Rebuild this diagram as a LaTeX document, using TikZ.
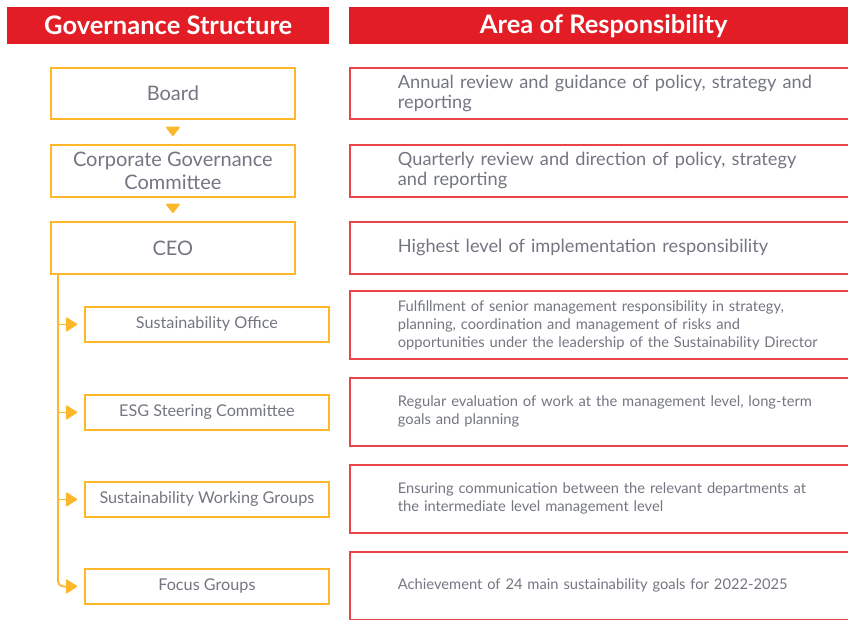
\documentclass[tikz,border=0pt]{standalone}
\usepackage{fontspec}
\setmainfont{Lato}
\usetikzlibrary{arrows.meta}
\definecolor{headred}{HTML}{E31D25}
\definecolor{boxred}{HTML}{E9444C}
\definecolor{boxyellow}{HTML}{FCB72B}
\definecolor{txtgray}{HTML}{737680}

\begin{document}
\begin{tikzpicture}[x=1pt, y=-1pt,
    header/.style={fill=headred, text=white, font=\bfseries\fontsize{25.5}{28}\selectfont,
      minimum height=37pt, anchor=north west, inner sep=0pt},
    govbox/.style={draw=boxyellow, line width=1.8pt, text=txtgray, minimum width=244pt,
      minimum height=51pt, anchor=north west, align=center, inner sep=0pt,
      font=\fontsize{20}{23}\selectfont},
    subbox/.style={govbox, minimum height=35pt, font=\fontsize{16.2}{18}\selectfont},
    areabox/.style={draw=boxred, line width=1.8pt, text=txtgray, text width=460pt,
      inner xsep=48pt, inner ysep=0pt, align=left, anchor=north west,
      font=\fontsize{18.2}{20}\selectfont},
    areasmall/.style={areabox, minimum height=68pt, font=\fontsize{14.7}{18}\selectfont},
    downtip/.style={boxyellow, line width=1.8pt, shorten <=8pt, shorten >=8pt,
      -{Triangle[width=15pt,length=10pt,round]}},
    branchtip/.style={boxyellow, line width=1.8pt, shorten >=7pt,
      -{Triangle[width=15pt,length=12pt,round]}}]
    \useasboundingbox (0,0) rectangle (848,619);
    \clip (0,0) rectangle (848,619);
    % headers
    \node[header, minimum width=322pt] (govhead) at (7,7) {Governance Structure};
    \node[header, minimum width=509pt] (areahead) at (349,7) {Area of Responsibility};
    % governance structure
    \node[govbox] (board) at (50,67) {Board};
    \node[govbox, minimum height=52pt] (cgc) at (50,144) {Corporate Governance\\Committee};
    \node[govbox, minimum height=52pt] (ceo) at (50,221) {CEO};
    \node[subbox] (office) at (84,306) {Sustainability Office};
    \node[subbox] (esg) at (84,394) {ESG Steering Committee};
    \node[subbox] (working) at (84,481) {Sustainability Working Groups};
    \node[subbox] (focus) at (84,568) {Focus Groups};
    % area of responsibility
    \node[areabox, minimum height=51pt] (annual) at (349,67)
      {Annual review and guidance of policy, strategy and\\reporting};
    \node[areabox, minimum height=52pt] (quarterly) at (349,144)
      {Quarterly review and direction of policy, strategy\\and reporting};
    \node[areabox, minimum height=52pt] (highest) at (349,221)
      {Highest level of implementation responsibility};
    \node[areasmall] (fulfil) at (349,290)
      {Fulfillment of senior management responsibility in strategy,\\planning, coordination and management of risks and\\opportunities under the leadership of the Sustainability Director};
    \node[areasmall] (regular) at (349,377)
      {Regular evaluation of work at the management level, long-term\\goals and planning};
    \node[areasmall] (ensuring) at (349,464)
      {Ensuring communication between the relevant departments at\\the intermediate level management level};
    \node[areasmall] (achieve) at (349,551)
      {Achievement of 24 main sustainability goals for 2022-2025};
    % connectors
    \draw[downtip] (board.south) -- (cgc.north);
    \draw[downtip] (cgc.south) -- (ceo.north);
    \coordinate (trunk) at ([xshift=8pt]ceo.south west);
    \draw[branchtip, rounded corners=5pt] (trunk) |- (focus.west);
    \foreach \n in {office, esg, working}
      \draw[branchtip] (trunk |- \n.west) -- (\n.west);
\end{tikzpicture}
\end{document}
